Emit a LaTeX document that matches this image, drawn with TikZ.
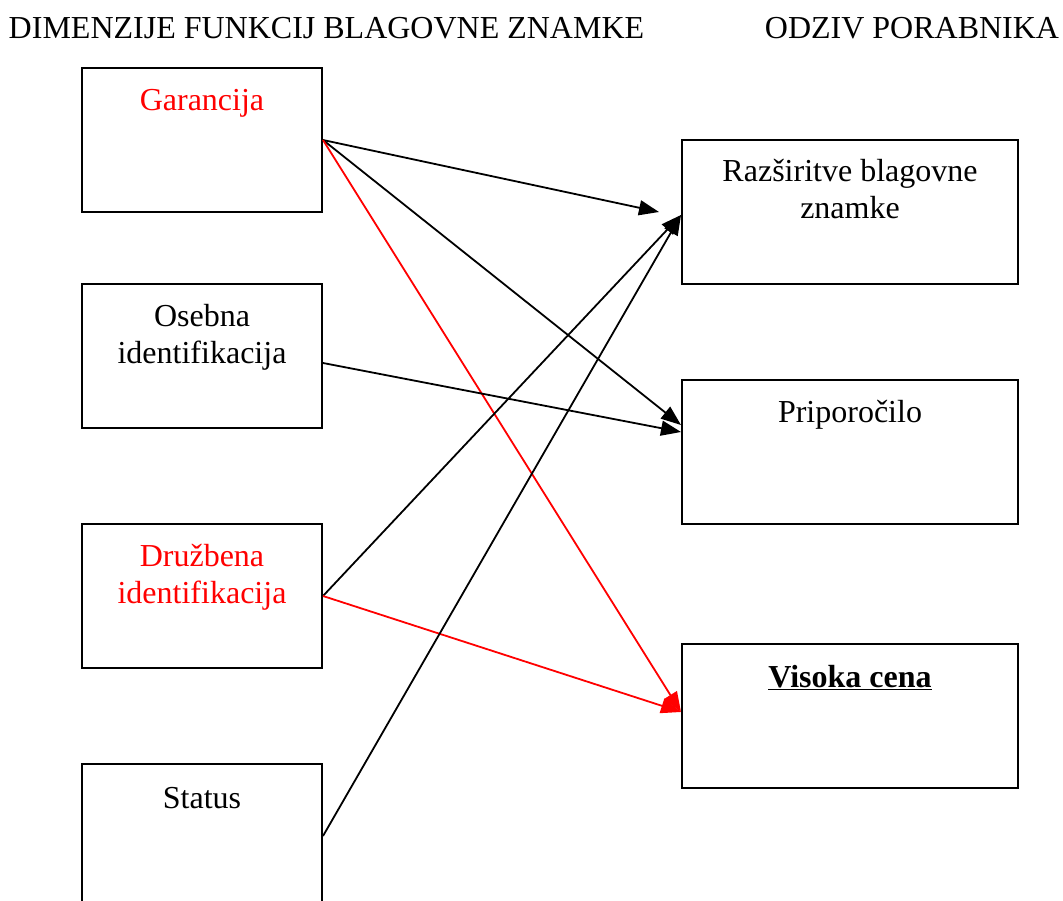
\documentclass[tikz,border=0pt]{standalone}
\usepackage{fontspec}
\setmainfont{Liberation Serif}
\usetikzlibrary{arrows.meta,calc}
\begin{document}
\begin{tikzpicture}[x=1pt,y=1pt,
  box/.style={draw,line width=2pt,minimum width=240pt,minimum height=144pt,inner sep=0pt},
  rbox/.style={draw,line width=2pt,minimum width=336pt,minimum height=144pt,inner sep=0pt},
  lbl/.style={font=\fontsize{32}{37}\selectfont,inner sep=0pt,anchor=base,align=center},
  conn/.style={line width=1.8pt,-{Triangle[length=20pt,width=15pt]}},
  redconn/.style={conn,red}]
\useasboundingbox (0,0) rectangle (1063,-901);
\begin{scope}
\clip (0,0) rectangle (1063,-901);
% titles
\node[lbl] (t1) at (326.5,-39) {DIMENZIJE FUNKCIJ BLAGOVNE ZNAMKE};
\node[lbl] (t2) at (912,-39) {ODZIV PORABNIKA};
% left boxes
\node[box] (g) at (202,-140) {};
\node[box] (o) at (202,-356) {};
\node[box] (d) at (202,-596) {};
\node[box] (s) at (202,-836) {};
% right boxes
\node[rbox] (r) at (850,-212) {};
\node[rbox] (p) at (850,-452) {};
\node[rbox] (v) at (850,-716) {};
% labels
\node[lbl,text=red] (gl) at (202,-111) {Garancija};
\node[lbl] (ol) at (202,-363) {Osebna\\identifikacija};
\node[lbl,text=red] (dl) at (202,-603) {Družbena\\identifikacija};
\node[lbl] (sl) at (202,-808) {Status};
\node[lbl] (rl) at (850,-219) {Razširitve blagovne\\znamke};
\node[lbl] (pl) at (850,-422) {Priporočilo};
\node[lbl] (vl) at (850,-687) {\underline{\textbf{Visoka cena}}};
% connector end points
\coordinate (os) at ($(o.east)+(0,-7)$);
\coordinate (rg) at ($(r.west)+(-22,0)$);
\coordinate (pg) at ($(p.west)+(0,27)$);
\coordinate (po) at ($(p.west)+(0,20)$);
\coordinate (vg) at ($(v.west)+(0,4)$);
\coordinate (rd) at ($(r.west)+(0,-3)$);
% connectors
\draw[conn] (g.east) -- (rg);
\draw[conn] (g.east) -- (pg);
\draw[redconn] (g.east) -- (vg);
\draw[conn] (os) -- (po);
\draw[conn] (d.east) -- (rd);
\draw[redconn] (d.east) -- (vg);
\draw[conn] (s.east) -- (rd);
\end{scope}
\end{tikzpicture}
\end{document}
